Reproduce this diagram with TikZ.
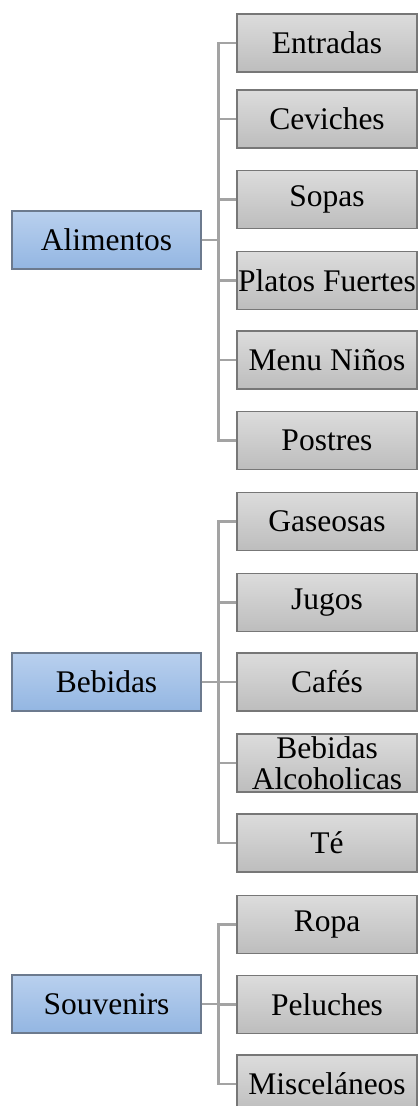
\documentclass[tikz,border=0pt]{standalone}
\usepackage{fontspec}
\setmainfont{Liberation Serif}
\begin{document}
\begin{tikzpicture}[x=1pt,y=-1pt,
  parentbox/.style={draw=parentborder,line width=1.1pt,top color=parenttop,bottom color=parentbot,
    minimum width=189pt,minimum height=58pt,inner sep=0pt,align=center,
    font=\fontsize{31.5}{31}\selectfont},
  childbox/.style={draw=childborder,line width=1.1pt,top color=childtop,bottom color=childbot,
    minimum width=180pt,minimum height=58pt,inner sep=0pt,align=center,
    font=\fontsize{31.5}{31}\selectfont},
  link/.style={draw=linkgrey,line width=2.4pt}]
\definecolor{parentborder}{HTML}{6C7A8E}
\definecolor{parenttop}{HTML}{B9D0EE}
\definecolor{parentbot}{HTML}{93B6E2}
\definecolor{childborder}{HTML}{777777}
\definecolor{childtop}{HTML}{DCDCDC}
\definecolor{childbot}{HTML}{BDBDBD}
\definecolor{linkgrey}{HTML}{A3A3A3}
\useasboundingbox (0,0) rectangle (418,1106);
\clip (0,0) rectangle (418,1106);
% parents
\node[parentbox] (alim) at (106.5,240) {Alimentos};
\node[parentbox] (bebi) at (106.5,682) {Bebidas};
\node[parentbox] (souv) at (106.5,1004) {Souvenirs};
% children
\node[childbox] (c1) at (327,43) {Entradas};
\node[childbox] (c2) at (327,119) {Ceviches};
\node[childbox] (c3) at (327,199.5) {Sopas};
\node[childbox] (c4) at (327,280.5) {Platos Fuertes};
\node[childbox] (c5) at (327,360) {Menu Niños};
\node[childbox] (c6) at (327,440.5) {Postres};
\node[childbox] (d1) at (327,521.5) {Gaseosas};
\node[childbox] (d2) at (327,602.5) {Jugos};
\node[childbox] (d3) at (327,682) {Cafés};
\node[childbox] (d4) at (327,763) {Bebidas\\Alcoholicas};
\node[childbox] (d5) at (327,843) {Té};
\node[childbox] (e1) at (327,924.5) {Ropa};
\node[childbox] (e2) at (327,1004.5) {Peluches};
\node[childbox] (e3) at (327,1084) {Misceláneos};
% connectors
\foreach \c in {c1,c2,c3,c4,c5,c6}{\draw[link] (alim.east) -- ++(17,0) |- (\c.west);}
\foreach \c in {d1,d2,d3,d4,d5}{\draw[link] (bebi.east) -- ++(17,0) |- (\c.west);}
\foreach \c in {e1,e2,e3}{\draw[link] (souv.east) -- ++(17,0) |- (\c.west);}
\end{tikzpicture}
\end{document}
